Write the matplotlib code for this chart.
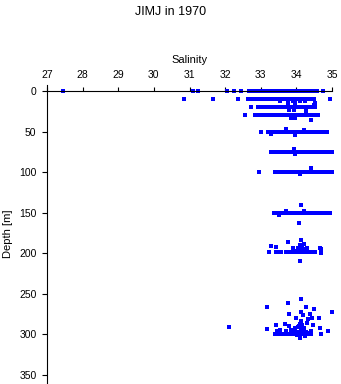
"""
JIMJ 1970 salinity profile
Salinity vs depth scatter, one dot per bottle sample
"""

import matplotlib
matplotlib.use('Agg')
import matplotlib.pyplot as plt

# Colour / font
COLOR_DOT = '#0000ff'
plt.rcParams['font.family'] = ['Liberation Sans', 'DejaVu Sans']

# ================================================================================
# DATA
# ================================================================================

# standard depth levels: salinity of every sample at that depth
depth_levels = [0, 10, 20, 30, 50, 75, 100, 150, 199]

sal_0m = [27.46, 31.10, 31.25, 32.05, 32.25, 32.45, 32.66, 32.78, 32.84, 32.90,
          32.96, 33.01, 33.07, 33.12, 33.18, 33.23, 33.29, 33.35, 33.40, 33.46,
          33.51, 33.57, 33.62, 33.68, 33.74, 33.79, 33.85, 33.90, 33.96, 34.01,
          34.07, 34.13, 34.18, 34.24, 34.29, 34.35, 34.41, 34.46, 34.52, 34.57,
          34.75]
sal_10m = [30.84, 31.65, 32.36, 32.64, 32.70, 32.75, 32.81, 32.86, 32.92, 32.97,
           33.03, 33.09, 33.14, 33.20, 33.25, 33.31, 33.36, 33.42, 33.47, 33.53,
           33.59, 33.64, 33.70, 33.75, 33.81, 33.86, 33.92, 33.97, 34.03, 34.09,
           34.14, 34.20, 34.25, 34.31, 34.36, 34.42, 34.49, 34.95]
sal_20m = [32.72, 32.92, 32.97, 33.03, 33.08, 33.14, 33.19, 33.25, 33.30, 33.36,
           33.41, 33.47, 33.52, 33.58, 33.63, 33.69, 33.74, 33.80, 33.85, 33.91,
           33.96, 34.02, 34.07, 34.13, 34.18, 34.24, 34.29, 34.35, 34.40, 34.46,
           34.51]
sal_30m = [32.55, 32.85, 32.90, 32.96, 33.01, 33.07, 33.12, 33.18, 33.23, 33.29,
           33.34, 33.40, 33.45, 33.51, 33.56, 33.62, 33.67, 33.73, 33.78, 33.84,
           33.89, 33.95, 34.00, 34.06, 34.11, 34.17, 34.22, 34.28, 34.33, 34.39,
           34.44, 34.50, 34.55, 34.60]
sal_50m = [33.02, 33.20, 33.25, 33.31, 33.36, 33.42, 33.47, 33.53, 33.58, 33.64,
           33.69, 33.75, 33.80, 33.86, 33.91, 33.97, 34.02, 34.08, 34.13, 34.19,
           34.24, 34.30, 34.35, 34.41, 34.46, 34.52, 34.57, 34.63, 34.68, 34.74,
           34.79, 34.85]
sal_75m = [33.28, 33.38, 33.44, 33.49, 33.55, 33.60, 33.66, 33.71, 33.77, 33.82,
           33.88, 33.93, 33.99, 34.04, 34.10, 34.15, 34.21, 34.26, 34.32, 34.37,
           34.43, 34.48, 34.54, 34.59, 34.65, 34.70, 34.76, 34.81, 34.87, 34.92,
           34.99]
sal_100m = [32.94, 33.40, 33.45, 33.51, 33.56, 33.62, 33.67, 33.73, 33.78, 33.84,
            33.89, 33.95, 34.00, 34.06, 34.11, 34.17, 34.22, 34.28, 34.33, 34.39,
            34.44, 34.50, 34.55, 34.61, 34.66, 34.72, 34.77, 34.83, 34.88, 34.99]
sal_150m = [33.36, 33.41, 33.47, 33.52, 33.58, 33.63, 33.69, 33.74, 33.80, 33.85,
            33.91, 33.96, 34.02, 34.07, 34.13, 34.18, 34.24, 34.29, 34.35, 34.40,
            34.46, 34.51, 34.57, 34.62, 34.68, 34.73, 34.79, 34.84, 34.94]
sal_199m = [33.22, 33.44, 33.50, 33.58, 33.72, 33.78, 33.84, 33.90, 33.96, 34.02,
            34.08, 34.14, 34.20, 34.26, 34.32, 34.38, 34.45, 34.52]

# odd samples between the standard levels
extra_sal = [33.55, 33.90, 34.09, 34.23, 33.77, 33.95, 34.51, 34.49,
             33.79, 33.92, 34.28, 34.28, 33.86, 33.95, 34.40,
             33.72, 34.20, 33.95, 33.30, 33.93, 33.95, 34.40, 34.10,
             34.12, 34.06, 33.70, 34.20, 33.50,
             34.12, 33.30, 33.44, 33.77, 33.90, 34.20, 34.31, 34.65, 34.70, 34.70,
             34.05, 34.12, 34.18, 33.98, 34.22, 34.10, 34.15, 34.10,
             34.14, 33.18, 33.77, 34.28, 34.50, 35.00, 33.78, 34.12, 34.18, 34.37,
             33.99, 34.32, 34.43, 34.63, 34.14, 33.44, 33.69, 33.78, 34.09, 34.31,
             34.47, 33.18, 34.65, 34.89, 32.10, 34.09,
             33.40, 33.46, 33.52, 33.58, 33.64, 33.70, 33.76, 33.82, 33.88, 33.94,
             34.00, 34.06, 34.12, 34.18, 34.24, 34.30, 34.36, 34.42, 34.70,
             33.45, 33.55, 33.72, 33.85, 33.97, 34.03, 34.15, 34.21, 34.27, 34.40,
             33.95, 34.05, 34.12, 34.20, 34.08, 34.16, 34.02, 34.25]
extra_dep = [12, 12, 12, 12, 15, 15, 15, 17,
             24, 24, 24, 26, 33, 33, 36,
             47, 48, 54, 53, 72, 78, 95, 102,
             140, 163, 148, 148, 153,
             184, 191, 192, 186, 193, 189, 193, 193, 195, 200,
             193, 194, 196, 197, 195, 190, 192, 210,
             256, 266, 261, 266, 269, 273, 275, 273, 276, 275,
             280, 281, 280, 280, 283, 288, 287, 290, 287, 286,
             288, 293, 292, 296, 291, 304,
             299, 300, 298, 299, 300, 298, 299, 300, 299, 298,
             300, 299, 298, 300, 299, 298, 300, 299, 300,
             296, 295, 296, 295, 296, 297, 295, 296, 297, 296,
             292, 291, 293, 292, 290, 289, 301, 302]

level_sal = [sal_0m, sal_10m, sal_20m, sal_30m, sal_50m, sal_75m,
             sal_100m, sal_150m, sal_199m]

# ================================================================================
# FIGURE
# ================================================================================

fig = plt.figure(figsize=(3.41, 3.84), dpi=100)
ax = fig.add_axes([47 / 341, 1 / 384, 285 / 341, 298 / 384])

for depth, sal in zip(depth_levels, level_sal):
    ax.plot(sal, [depth] * len(sal), 's', color=COLOR_DOT,
            markersize=2.3, markeredgewidth=0, clip_on=False)
ax.plot(extra_sal, extra_dep, 's', color=COLOR_DOT,
        markersize=2.3, markeredgewidth=0, clip_on=False)

ax.set_xlim(27, 35)
ax.set_ylim(360, -7.4)

# old-style axes: salinity scale on top, sitting at depth 0
ax.spines['right'].set_visible(False)
ax.spines['bottom'].set_visible(False)
ax.spines['top'].set_position(('data', 0))
for s in ('top', 'left'):
    ax.spines[s].set_linewidth(0.8)

ax.xaxis.set_ticks_position('top')
ax.xaxis.set_label_position('top')
ax.set_xticks(range(27, 36))
ax.set_yticks(range(0, 351, 50))
ax.tick_params(axis='x', direction='out', length=3, width=0.8, pad=5, labelsize=7.5)
ax.tick_params(axis='y', direction='out', length=3.6, width=0.8, pad=4, labelsize=7.5)

ax.set_xlabel('Salinity', fontsize=8)
ax.xaxis.set_label_coords(0.5, 1.084)
ax.xaxis.label.set_va('center')
ax.set_ylabel('Depth [m]', fontsize=8)
ax.yaxis.set_label_coords(-0.137, 0.5)
ax.yaxis.label.set_va('center')

fig.text(0.5, 1 - 12 / 384, 'JIMJ in 1970', ha='center', va='center', fontsize=9)

plt.savefig('out.png', dpi=100)
plt.close()
